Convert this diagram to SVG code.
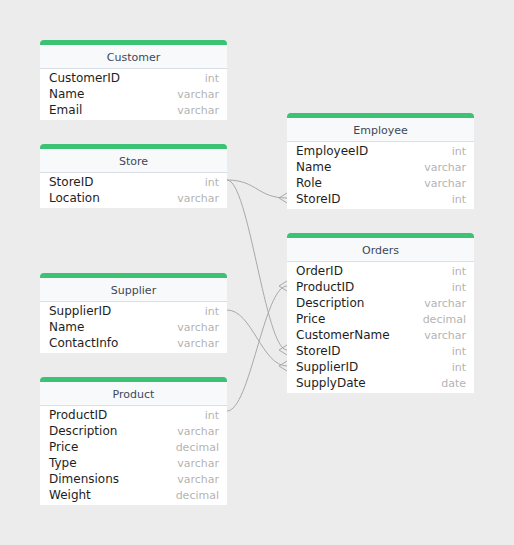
<svg xmlns="http://www.w3.org/2000/svg" width="514" height="545" viewBox="0 0 514 545">
<style>
.bg{fill:#ececec}
.top{fill:#3cc274}
.head{fill:#f8f9fb}
.sep{stroke:#d8dfe9;stroke-width:1}
.body{fill:#ffffff}
.title{font-family:"DejaVu Sans",Verdana,sans-serif;font-size:11px;fill:#3b4859;text-anchor:middle}
.f{font-family:"DejaVu Sans",Verdana,sans-serif;font-size:12px;fill:#1e1e1e}
.t{font-family:"DejaVu Sans",Verdana,sans-serif;font-size:11px;fill:#b4b4b4;text-anchor:end}
.c{fill:none;stroke:#a9a9a9;stroke-width:1}
</style>
<rect class="bg" x="0" y="0" width="514" height="545"/>
<g id="connectors">
<path class="c" d="M227,180 C257,180 257,198 287,198"/>
<path class="c" d="M279,198 L287,193 M279,198 L287,203"/>
<path class="c" d="M227,180 C249,180 265,350 287,350"/>
<path class="c" d="M279,350 L287,345 M279,350 L287,355"/>
<path class="c" d="M227,310 C252,310 262,366 287,366"/>
<path class="c" d="M279,366 L287,361 M279,366 L287,371"/>
<path class="c" d="M227,411 C250,411 264,286 287,286"/>
<path class="c" d="M279,286 L287,281 M279,286 L287,291"/>
</g>
<g id="Customer" transform="translate(40,40)">
<path class="top" d="M0,4 A4,4 0 0 1 4,0 H183 A4,4 0 0 1 187,4 V5 H0 Z"/>
<rect class="head" x="0" y="5" width="187" height="23"/>
<line class="sep" x1="0" y1="28.5" x2="187" y2="28.5"/>
<rect class="body" x="0" y="29" width="187" height="51"/>
<text class="title" x="93.5" y="21">Customer</text>
<text class="f" x="9" y="42">CustomerID</text><text class="t" x="179" y="42">int</text>
<text class="f" x="9" y="58">Name</text><text class="t" x="179" y="58">varchar</text>
<text class="f" x="9" y="74">Email</text><text class="t" x="179" y="74">varchar</text>
</g>
<g id="Store" transform="translate(40,144)">
<path class="top" d="M0,4 A4,4 0 0 1 4,0 H183 A4,4 0 0 1 187,4 V5 H0 Z"/>
<rect class="head" x="0" y="5" width="187" height="23"/>
<line class="sep" x1="0" y1="28.5" x2="187" y2="28.5"/>
<rect class="body" x="0" y="29" width="187" height="35"/>
<text class="title" x="93.5" y="21">Store</text>
<text class="f" x="9" y="42">StoreID</text><text class="t" x="179" y="42">int</text>
<text class="f" x="9" y="58">Location</text><text class="t" x="179" y="58">varchar</text>
</g>
<g id="Employee" transform="translate(287,113)">
<path class="top" d="M0,4 A4,4 0 0 1 4,0 H183 A4,4 0 0 1 187,4 V5 H0 Z"/>
<rect class="head" x="0" y="5" width="187" height="23"/>
<line class="sep" x1="0" y1="28.5" x2="187" y2="28.5"/>
<rect class="body" x="0" y="29" width="187" height="67"/>
<text class="title" x="93.5" y="21">Employee</text>
<text class="f" x="9" y="42">EmployeeID</text><text class="t" x="179" y="42">int</text>
<text class="f" x="9" y="58">Name</text><text class="t" x="179" y="58">varchar</text>
<text class="f" x="9" y="74">Role</text><text class="t" x="179" y="74">varchar</text>
<text class="f" x="9" y="90">StoreID</text><text class="t" x="179" y="90">int</text>
</g>
<g id="Orders" transform="translate(287,233)">
<path class="top" d="M0,4 A4,4 0 0 1 4,0 H183 A4,4 0 0 1 187,4 V5 H0 Z"/>
<rect class="head" x="0" y="5" width="187" height="23"/>
<line class="sep" x1="0" y1="28.5" x2="187" y2="28.5"/>
<rect class="body" x="0" y="29" width="187" height="131"/>
<text class="title" x="93.5" y="21">Orders</text>
<text class="f" x="9" y="42">OrderID</text><text class="t" x="179" y="42">int</text>
<text class="f" x="9" y="58">ProductID</text><text class="t" x="179" y="58">int</text>
<text class="f" x="9" y="74">Description</text><text class="t" x="179" y="74">varchar</text>
<text class="f" x="9" y="90">Price</text><text class="t" x="179" y="90">decimal</text>
<text class="f" x="9" y="106">CustomerName</text><text class="t" x="179" y="106">varchar</text>
<text class="f" x="9" y="122">StoreID</text><text class="t" x="179" y="122">int</text>
<text class="f" x="9" y="138">SupplierID</text><text class="t" x="179" y="138">int</text>
<text class="f" x="9" y="154">SupplyDate</text><text class="t" x="179" y="154">date</text>
</g>
<g id="Supplier" transform="translate(40,273)">
<path class="top" d="M0,4 A4,4 0 0 1 4,0 H183 A4,4 0 0 1 187,4 V5 H0 Z"/>
<rect class="head" x="0" y="5" width="187" height="23"/>
<line class="sep" x1="0" y1="28.5" x2="187" y2="28.5"/>
<rect class="body" x="0" y="29" width="187" height="51"/>
<text class="title" x="93.5" y="21">Supplier</text>
<text class="f" x="9" y="42">SupplierID</text><text class="t" x="179" y="42">int</text>
<text class="f" x="9" y="58">Name</text><text class="t" x="179" y="58">varchar</text>
<text class="f" x="9" y="74">ContactInfo</text><text class="t" x="179" y="74">varchar</text>
</g>
<g id="Product" transform="translate(40,377)">
<path class="top" d="M0,4 A4,4 0 0 1 4,0 H183 A4,4 0 0 1 187,4 V5 H0 Z"/>
<rect class="head" x="0" y="5" width="187" height="23"/>
<line class="sep" x1="0" y1="28.5" x2="187" y2="28.5"/>
<rect class="body" x="0" y="29" width="187" height="99"/>
<text class="title" x="93.5" y="21">Product</text>
<text class="f" x="9" y="42">ProductID</text><text class="t" x="179" y="42">int</text>
<text class="f" x="9" y="58">Description</text><text class="t" x="179" y="58">varchar</text>
<text class="f" x="9" y="74">Price</text><text class="t" x="179" y="74">decimal</text>
<text class="f" x="9" y="90">Type</text><text class="t" x="179" y="90">varchar</text>
<text class="f" x="9" y="106">Dimensions</text><text class="t" x="179" y="106">varchar</text>
<text class="f" x="9" y="122">Weight</text><text class="t" x="179" y="122">decimal</text>
</g>
</svg>
